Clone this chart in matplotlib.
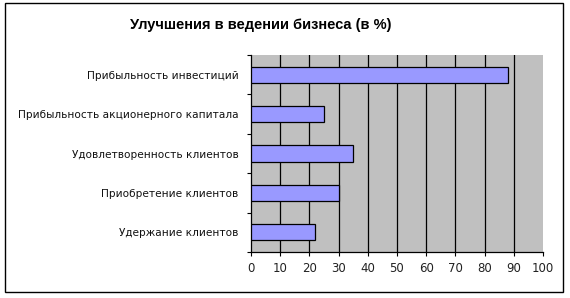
import matplotlib
matplotlib.use("Agg")
import matplotlib.pyplot as plt
from matplotlib.patches import Rectangle

# data (top to bottom as shown)
categories = ["Прибыльность инвестиций",
              "Прибыльность акционерного капитала",
              "Удовлетворенность клиентов",
              "Приобретение клиентов",
              "Удержание клиентов"]
values = [88, 25, 35, 30, 22]
xticks = list(range(0, 101, 10))

plt.rcParams['font.family'] = ['DejaVu Sans']

fig = plt.figure(figsize=(5.70, 2.98), dpi=100)
W, H = 570, 298
# plot area in pixels: x 251..543, y 55..252
ax = fig.add_axes([251 / W, 1 - 252 / H, (543 - 251) / W, (252 - 55) / H])

n = len(categories)
ypos = list(range(n))[::-1]
ax.barh(ypos, values, height=0.41, color='#9999ff', edgecolor='black',
        linewidth=0.9, zorder=3)

ax.set_facecolor('#c0c0c0')
ax.set_xlim(0, 100)
ax.set_ylim(-0.5, n - 0.5)
ax.set_xticks(xticks)
ax.set_xticklabels([str(t) for t in xticks], fontsize=8.5, color='#222222')
for t in xticks[1:-1]:
    ax.axvline(t, color='black', linewidth=0.9, zorder=1)

# category labels, ticks at boundaries
ax.set_yticks(ypos)
ax.set_yticklabels(categories, fontsize=7.6, color='#111111')
ax.tick_params(axis='y', length=0, pad=9)
ax.set_yticks([i - 0.5 for i in range(n + 1)], minor=True)
ax.tick_params(axis='y', which='minor', length=3, width=0.8, direction='out')
ax.tick_params(axis='x', length=3, width=0.8, direction='out', pad=4)

for side in ['top', 'right']:
    ax.spines[side].set_visible(False)
ax.spines['left'].set_linewidth(0.9)
ax.spines['bottom'].set_linewidth(0.9)

fig.text(261 / W, 1 - 25 / H, "Улучшения в ведении бизнеса (в %)",
         ha='center', va='center', fontsize=10.5, fontweight='bold',
         family=['Liberation Sans', 'DejaVu Sans'])

# chart border
fig.patches.append(Rectangle((5 / W, 1 - 292 / H), (563 - 5) / W, (292 - 3) / H,
                             transform=fig.transFigure, fill=False,
                             edgecolor='black', linewidth=1))

fig.savefig("out.png", dpi=100)
